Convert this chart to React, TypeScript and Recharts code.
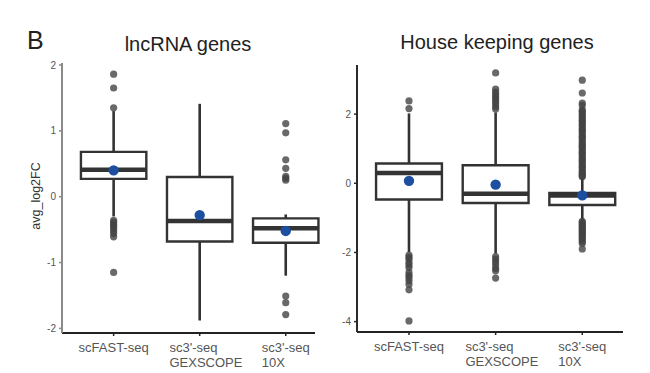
import React from 'react';
import {
  ComposedChart,
  XAxis,
  YAxis,
  Scatter,
  ReferenceArea,
  ReferenceLine,
} from 'recharts';

const categories = ['scFAST-seq', "sc3'-seq\nGEXSCOPE", "sc3'-seq\n10X"];

// lncRNA genes panel
const lncMin = [-0.3, -1.88, -1.2];
const lncQ1 = [0.27, -0.68, -0.7];
const lncMedian = [0.41, -0.37, -0.48];
const lncQ3 = [0.68, 0.3, -0.33];
const lncMax = [1.3, 1.41, -0.27];
const lncMean = [0.4, -0.28, -0.52];
const lncOutliers = [
  [1.86, 1.65, 1.35, -0.36, -0.39, -0.42, -0.45, -0.48, -0.52, -0.56, -0.61, -1.15],
  [],
  [1.11, 0.97, 0.56, 0.43, 0.31, 0.28, 0.25, -1.51, -1.61, -1.79],
];

// house keeping genes panel
const hkMin = [-1.99, -2.03, -1.08];
const hkQ1 = [-0.47, -0.57, -0.63];
const hkMedian = [0.3, -0.3, -0.35];
const hkQ3 = [0.57, 0.52, -0.28];
const hkMax = [2.02, 2.05, 0.15];
const hkMean = [0.07, -0.04, -0.35];
const hkOutliers = [
  [2.38, 2.16, -2.08, -2.14, -2.2, -2.29, -2.36, -2.44, -2.58, -2.66, -2.73, -2.82, -2.92, -3.08, -3.98],
  [3.19, 2.72, 2.64, 2.57, 2.5, 2.44, 2.37, 2.3, 2.22, 2.15, -2.12, -2.19, -2.27, -2.36, -2.46, -2.53, -2.74],
  [
    2.98, 2.61, 2.32, 2.25, 2.12, 2.08, 2.03, 1.97, 1.92, 1.86, 1.81, 1.77, 1.71, 1.66, 1.6, 1.55,
    1.51, 1.46, 1.4, 1.35, 1.31, 1.26, 1.2, 1.15, 1.1, 1.06, 1.01, 0.95, 0.9, 0.86, 0.81, 0.75,
    0.7, 0.66, 0.61, 0.55, 0.5, 0.46, 0.41, 0.35, 0.31, 0.26, 0.22, 0.19,
    -1.1, -1.14, -1.18, -1.22, -1.27, -1.31, -1.35, -1.4, -1.44, -1.48, -1.53, -1.58, -1.63, -1.68,
    -1.74, -1.9,
  ],
];

const lncTicks = [-2, -1, 0, 1, 2];
const hkTicks = [-4, -2, 0, 2];

const FONT = "'Liberation Sans', Arial, Helvetica, sans-serif";
const BOX = '#333333';
const HALF = 0.38;

let ctx: CanvasRenderingContext2D | null = null;
function textWidth(s: string, size: number) {
  if (!ctx) ctx = document.createElement('canvas').getContext('2d');
  if (!ctx) return s.length * size * 0.55;
  ctx.font = `${size}px ${FONT}`;
  return ctx.measureText(s).width;
}

function XTick(props: any) {
  const { x, y, payload } = props;
  const lines = categories[payload.value - 1].split('\n');
  const first = textWidth(lines[0], 13);
  const widest = Math.max(...lines.map((l: string) => textWidth(l, 13)));
  // left-aligned block, placed about halfway between first-line and block centring
  const start = x - (first + widest) / 4;
  return (
    <text x={start} y={y + 14} fill="#555" fontSize={13} fontFamily={FONT} textAnchor="start">
      {lines.map((l: string, i: number) => (
        <tspan key={i} x={start} dy={i === 0 ? 0 : 15}>
          {l}
        </tspan>
      ))}
    </text>
  );
}

const dot = (props: any) => (
  <circle cx={props.cx} cy={props.cy} r={3.6} fill="#444" fillOpacity={0.8} />
);
const meanDot = (props: any) => <circle cx={props.cx} cy={props.cy} r={5.2} fill="#1c4fa0" />;

interface PanelProps {
  min: number[];
  q1: number[];
  median: number[];
  q3: number[];
  max: number[];
  mean: number[];
  outliers: number[][];
  ticks: number[];
  yDomain: [number, number];
  xDomain: [number, number];
  margin: { top: number; right: number; bottom: number; left: number };
  yAxisColor: string;
}

function BoxPanel(p: PanelProps) {
  const outData = p.outliers.flatMap((vals, i) => vals.map((v) => ({ x: i + 1, y: v })));
  const meanData = p.mean.map((v, i) => ({ x: i + 1, y: v }));
  return (
    <ComposedChart width={330} height={373} margin={p.margin}>
      <XAxis
        type="number"
        dataKey="x"
        domain={p.xDomain}
        ticks={[1, 2, 3]}
        allowDataOverflow
        height={30}
        axisLine={{ stroke: '#222', strokeWidth: 2 }}
        tickLine={{ stroke: '#222', strokeWidth: 1.5 }}
        tickSize={3}
        tick={<XTick />}
        interval={0}
      />
      <YAxis
        type="number"
        dataKey="y"
        domain={p.yDomain}
        ticks={p.ticks}
        allowDataOverflow
        width={30}
        axisLine={{ stroke: p.yAxisColor, strokeWidth: 2 }}
        tickLine={{ stroke: p.yAxisColor, strokeWidth: 1.5 }}
        tickSize={3}
        tickMargin={3}
        tick={{ fill: '#555', fontSize: 10, fontFamily: FONT }}
      />
      {p.min.map((v, i) => (
        <ReferenceLine
          key={`lo${i}`}
          segment={[{ x: i + 1, y: v }, { x: i + 1, y: p.q1[i] }]}
          stroke={BOX}
          strokeWidth={2.6}
          ifOverflow="visible"
        />
      ))}
      {p.max.map((v, i) => (
        <ReferenceLine
          key={`hi${i}`}
          segment={[{ x: i + 1, y: p.q3[i] }, { x: i + 1, y: v }]}
          stroke={BOX}
          strokeWidth={2.6}
          ifOverflow="visible"
        />
      ))}
      {p.q1.map((v, i) => (
        <ReferenceArea
          key={`box${i}`}
          x1={i + 1 - HALF}
          x2={i + 1 + HALF}
          y1={v}
          y2={p.q3[i]}
          fill="#fff"
          fillOpacity={1}
          stroke={BOX}
          strokeWidth={2.4}
          ifOverflow="visible"
        />
      ))}
      {p.median.map((v, i) => (
        <ReferenceLine
          key={`med${i}`}
          segment={[{ x: i + 1 - HALF, y: v }, { x: i + 1 + HALF, y: v }]}
          stroke={BOX}
          strokeWidth={4.5}
          ifOverflow="visible"
        />
      ))}
      <Scatter data={outData} shape={dot} isAnimationActive={false} />
      <Scatter data={meanData} shape={meanDot} isAnimationActive={false} />
    </ComposedChart>
  );
}

export default function App() {
  return (
    <div
      style={{
        position: 'absolute',
        left: 0,
        top: 0,
        width: 650,
        height: 373,
        background: '#fff',
        fontFamily: FONT,
        overflow: 'hidden',
      }}
    >
      <div style={{ position: 'absolute', left: 0, top: 0 }}>
        <BoxPanel
          min={lncMin}
          q1={lncQ1}
          median={lncMedian}
          q3={lncQ3}
          max={lncMax}
          mean={lncMean}
          outliers={lncOutliers}
          ticks={lncTicks}
          yDomain={[-2.07, 2.03]}
          xDomain={[0.4, 3.34]}
          margin={{ top: 63, right: 15, bottom: 10, left: 32 }}
          yAxisColor="#8a8a8a"
        />
      </div>
      <div style={{ position: 'absolute', left: 320, top: 0 }}>
        <BoxPanel
          min={hkMin}
          q1={hkQ1}
          median={hkMedian}
          q3={hkQ3}
          max={hkMax}
          mean={hkMean}
          outliers={hkOutliers}
          ticks={hkTicks}
          yDomain={[-4.3, 3.42]}
          xDomain={[0.4, 3.47]}
          margin={{ top: 65, right: 27, bottom: 11, left: 7 }}
          yAxisColor="#2a2a2a"
        />
      </div>
      <div style={{ position: 'absolute', left: 27, top: 28, fontSize: 25, color: '#222', lineHeight: 1 }}>
        B
      </div>
      <div
        style={{
          position: 'absolute',
          left: 188,
          top: 34,
          transform: 'translateX(-50%)',
          fontSize: 20,
          color: '#222',
          whiteSpace: 'nowrap',
          lineHeight: 1,
        }}
      >
        lncRNA genes
      </div>
      <div
        style={{
          position: 'absolute',
          left: 497,
          top: 32,
          transform: 'translateX(-50%)',
          fontSize: 20,
          color: '#222',
          whiteSpace: 'nowrap',
          lineHeight: 1,
        }}
      >
        House keeping genes
      </div>
      <div
        style={{
          position: 'absolute',
          left: 36,
          top: 196,
          transform: 'translate(-50%, -50%) rotate(-90deg)',
          fontSize: 12.5,
          color: '#333',
          whiteSpace: 'nowrap',
          lineHeight: 1,
        }}
      >
        avg_log2FC
      </div>
    </div>
  );
}
